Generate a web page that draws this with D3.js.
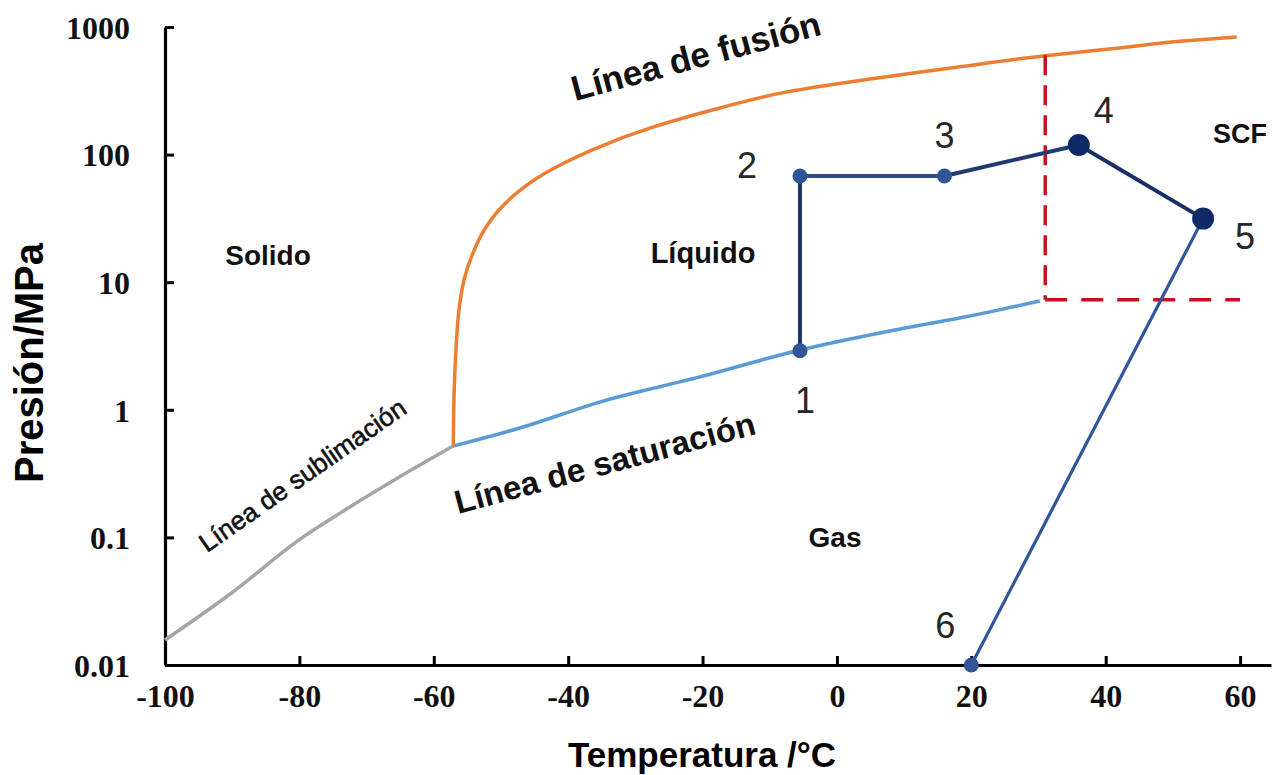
<!DOCTYPE html>
<html>
<head>
<meta charset="utf-8">
<script src="https://cdn.jsdelivr.net/npm/d3@7"></script>
<style>
  html, body { margin: 0; padding: 0; background: #fff; }
  svg { display: block; }
</style>
</head>
<body>
<svg id="chart" width="1278" height="775"></svg>
<script>
// ---------------- data ----------------
const xTicks = [-100, -80, -60, -40, -20, 0, 20, 40, 60];
const yTicks = [0.01, 0.1, 1, 10, 100, 1000];
const yTickLabels = ["0.01", "0.1", "1", "10", "100", "1000"];

const sublimT = [-100, -90, -80, -72.5, -65, -57.1];
const sublimP = [0.0157, 0.037, 0.096, 0.173, 0.3, 0.52];

const satT = [-57.1, -47.2, -35.3, -20.4, -5.5, 9.4, 19.8, 30.2];
const satP = [0.52, 0.72, 1.15, 1.81, 2.94, 4.3, 5.43, 7.13];

const fusT = [-57.1, -57.0, -56.7, -56.25, -55.5, -54.3, -52.5, -50.3, -47.5, -44.6, -41.2, -36.5, -27.4, -17.4, -7.4, 4.9, 18, 30.7, 42, 51.5, 59.5];
const fusP = [0.52, 1.19, 2.94, 6.05, 10.4, 16.3, 25.6, 36.8, 50.9, 65.6, 82.8, 108.6, 164, 232, 310, 391, 486, 593, 684, 776, 836];

const procLabels = ["1", "2", "3", "4", "5", "6"];
const procT = [-5.5, -5.5, 16, 36, 54.5, 20];
const procP = [2.9, 68, 68, 119, 31.5, 0.01];

const critT = 31, critP = 7.3, critFusP = 600, scfEndT = 60;

const regionLabels = ["Solido", "Líquido", "Gas", "SCF"];
const curveLabels = ["Línea de fusión", "Línea de saturación", "Línea de sublimación"];

// ---------------- layout ----------------
const svg = d3.select("#chart");
const x = d3.scaleLinear().domain([-100, 64.6]).range([165, 1271]);
const y = d3.scaleLog().domain([0.01, 1000]).range([665, 27]);

const sans = "'Liberation Sans', Arial, sans-serif";
const serif = "'Liberation Serif', 'Times New Roman', serif";

// axes
const xAxis = d3.axisBottom(x).tickValues(xTicks).tickSizeInner(-9).tickSizeOuter(0).tickPadding(19)
  .tickFormat(d => String(d));
const gx = svg.append("g").attr("transform", "translate(0,665)").call(xAxis);

const yAxis = d3.axisLeft(y).tickValues(yTicks).tickSizeInner(-9).tickSizeOuter(0).tickPadding(35)
  .tickFormat((d, i) => yTickLabels[i]);
const gy = svg.append("g").attr("transform", "translate(165,0)").call(yAxis);

[gx, gy].forEach(g => {
  g.select(".domain").attr("stroke", "#000").attr("stroke-width", 3.2);
  g.selectAll(".tick line").attr("stroke", "#000").attr("stroke-width", 3);
  g.selectAll(".tick text").attr("fill", "#111").attr("font-family", serif)
    .attr("font-weight", "bold").attr("font-size", 32);
});
gy.selectAll(".tick text").attr("dy", "0.35em");

// axis titles
svg.append("text").attr("x", 702).attr("y", 767).attr("text-anchor", "middle")
  .attr("font-family", sans).attr("font-weight", "bold").attr("font-size", 35).attr("fill", "#000")
  .text("Temperatura /°C");
svg.append("text").attr("transform", "translate(43,363) rotate(-90)").attr("text-anchor", "middle")
  .attr("font-family", sans).attr("font-weight", "bold").attr("font-size", 40).attr("fill", "#000")
  .text("Presión/MPa");

// curves
const lineX = d3.line().x(d => x(d[0])).y(d => y(d[1])).curve(d3.curveMonotoneX);
const lineY = d3.line().x(d => x(d[0])).y(d => y(d[1])).curve(d3.curveMonotoneY);
const zip = (a, b) => a.map((v, i) => [v, b[i]]);

svg.append("path").datum(zip(sublimT, sublimP)).attr("d", lineX)
  .attr("fill", "none").attr("stroke", "#a5a5a5").attr("stroke-width", 3.5);
svg.append("path").datum(zip(satT, satP)).attr("d", lineX)
  .attr("fill", "none").attr("stroke", "#5b9bd5").attr("stroke-width", 3.5);
svg.append("path").datum(zip(fusT, fusP)).attr("d", lineY)
  .attr("fill", "none").attr("stroke", "#ed7d31").attr("stroke-width", 3.5);

// red dashed critical lines
svg.append("line").attr("x1", x(critT)).attr("x2", x(critT)).attr("y1", y(critFusP)).attr("y2", y(critP))
  .attr("stroke", "#c8101e").attr("stroke-width", 3.5).attr("stroke-dasharray", "20,10");
svg.append("line").attr("x1", x(critT)).attr("x2", x(scfEndT)).attr("y1", y(critP)).attr("y2", y(critP))
  .attr("stroke", "#c8101e").attr("stroke-width", 3.5).attr("stroke-dasharray", "22,14");

// process path
const pts = zip(procT, procP);
const segColors = ["#1f3468", "#2a4a8a", "#22396f", "#1a2f66", "#2f559a"];
const segWidths = [4, 4, 4, 4, 3.2];
for (let i = 0; i < pts.length - 1; i++) {
  svg.append("line")
    .attr("x1", x(pts[i][0])).attr("y1", y(pts[i][1]))
    .attr("x2", x(pts[i + 1][0])).attr("y2", y(pts[i + 1][1]))
    .attr("stroke", segColors[i]).attr("stroke-width", segWidths[i]).attr("stroke-linecap", "round");
}
const bigPts = ["4", "5"];
svg.selectAll("circle.pt").data(pts).enter().append("circle")
  .attr("class", "pt")
  .attr("cx", d => x(d[0])).attr("cy", d => y(d[1]))
  .attr("r", (d, i) => bigPts.includes(procLabels[i]) ? 11 : 7.5)
  .attr("fill", (d, i) => bigPts.includes(procLabels[i]) ? "#102a68" : "#2f5597");

// point number labels (offsets relative to each point)
const labOff = [[5, 62], [-53, 2], [0, -28], [25, -22], [42, 30], [-26, -27]];
svg.selectAll("text.num").data(pts).enter().append("text")
  .attr("class", "num")
  .attr("x", (d, i) => x(d[0]) + labOff[i][0])
  .attr("y", (d, i) => y(d[1]) + labOff[i][1])
  .attr("text-anchor", "middle")
  .attr("font-family", sans).attr("font-size", 36).attr("fill", "#262626")
  .text((d, i) => procLabels[i]);

// region labels
const regionPos = [[268, 265, 28], [703, 263, 29], [835, 547, 28], [1240, 143, 27]];
regionLabels.forEach((t, i) => {
  svg.append("text").attr("x", regionPos[i][0]).attr("y", regionPos[i][1]).attr("text-anchor", "middle")
    .attr("font-family", sans).attr("font-weight", "bold").attr("font-size", regionPos[i][2]).attr("fill", "#111")
    .text(t);
});

// rotated curve labels
const curvePos = [[575, 101, -15, 35, "bold", 0], [458, 514, -15, 33, "bold", 0], [207, 553, -35, 26, "normal", 0.6]];
curveLabels.forEach((t, i) => {
  const p = curvePos[i];
  svg.append("text").attr("transform", `translate(${p[0]},${p[1]}) rotate(${p[2]})`)
    .attr("font-family", sans).attr("font-weight", p[4]).attr("font-size", p[3]).attr("fill", "#111")
    .attr("stroke", "#111").attr("stroke-width", p[5])
    .text(t);
});
</script>
</body>
</html>
